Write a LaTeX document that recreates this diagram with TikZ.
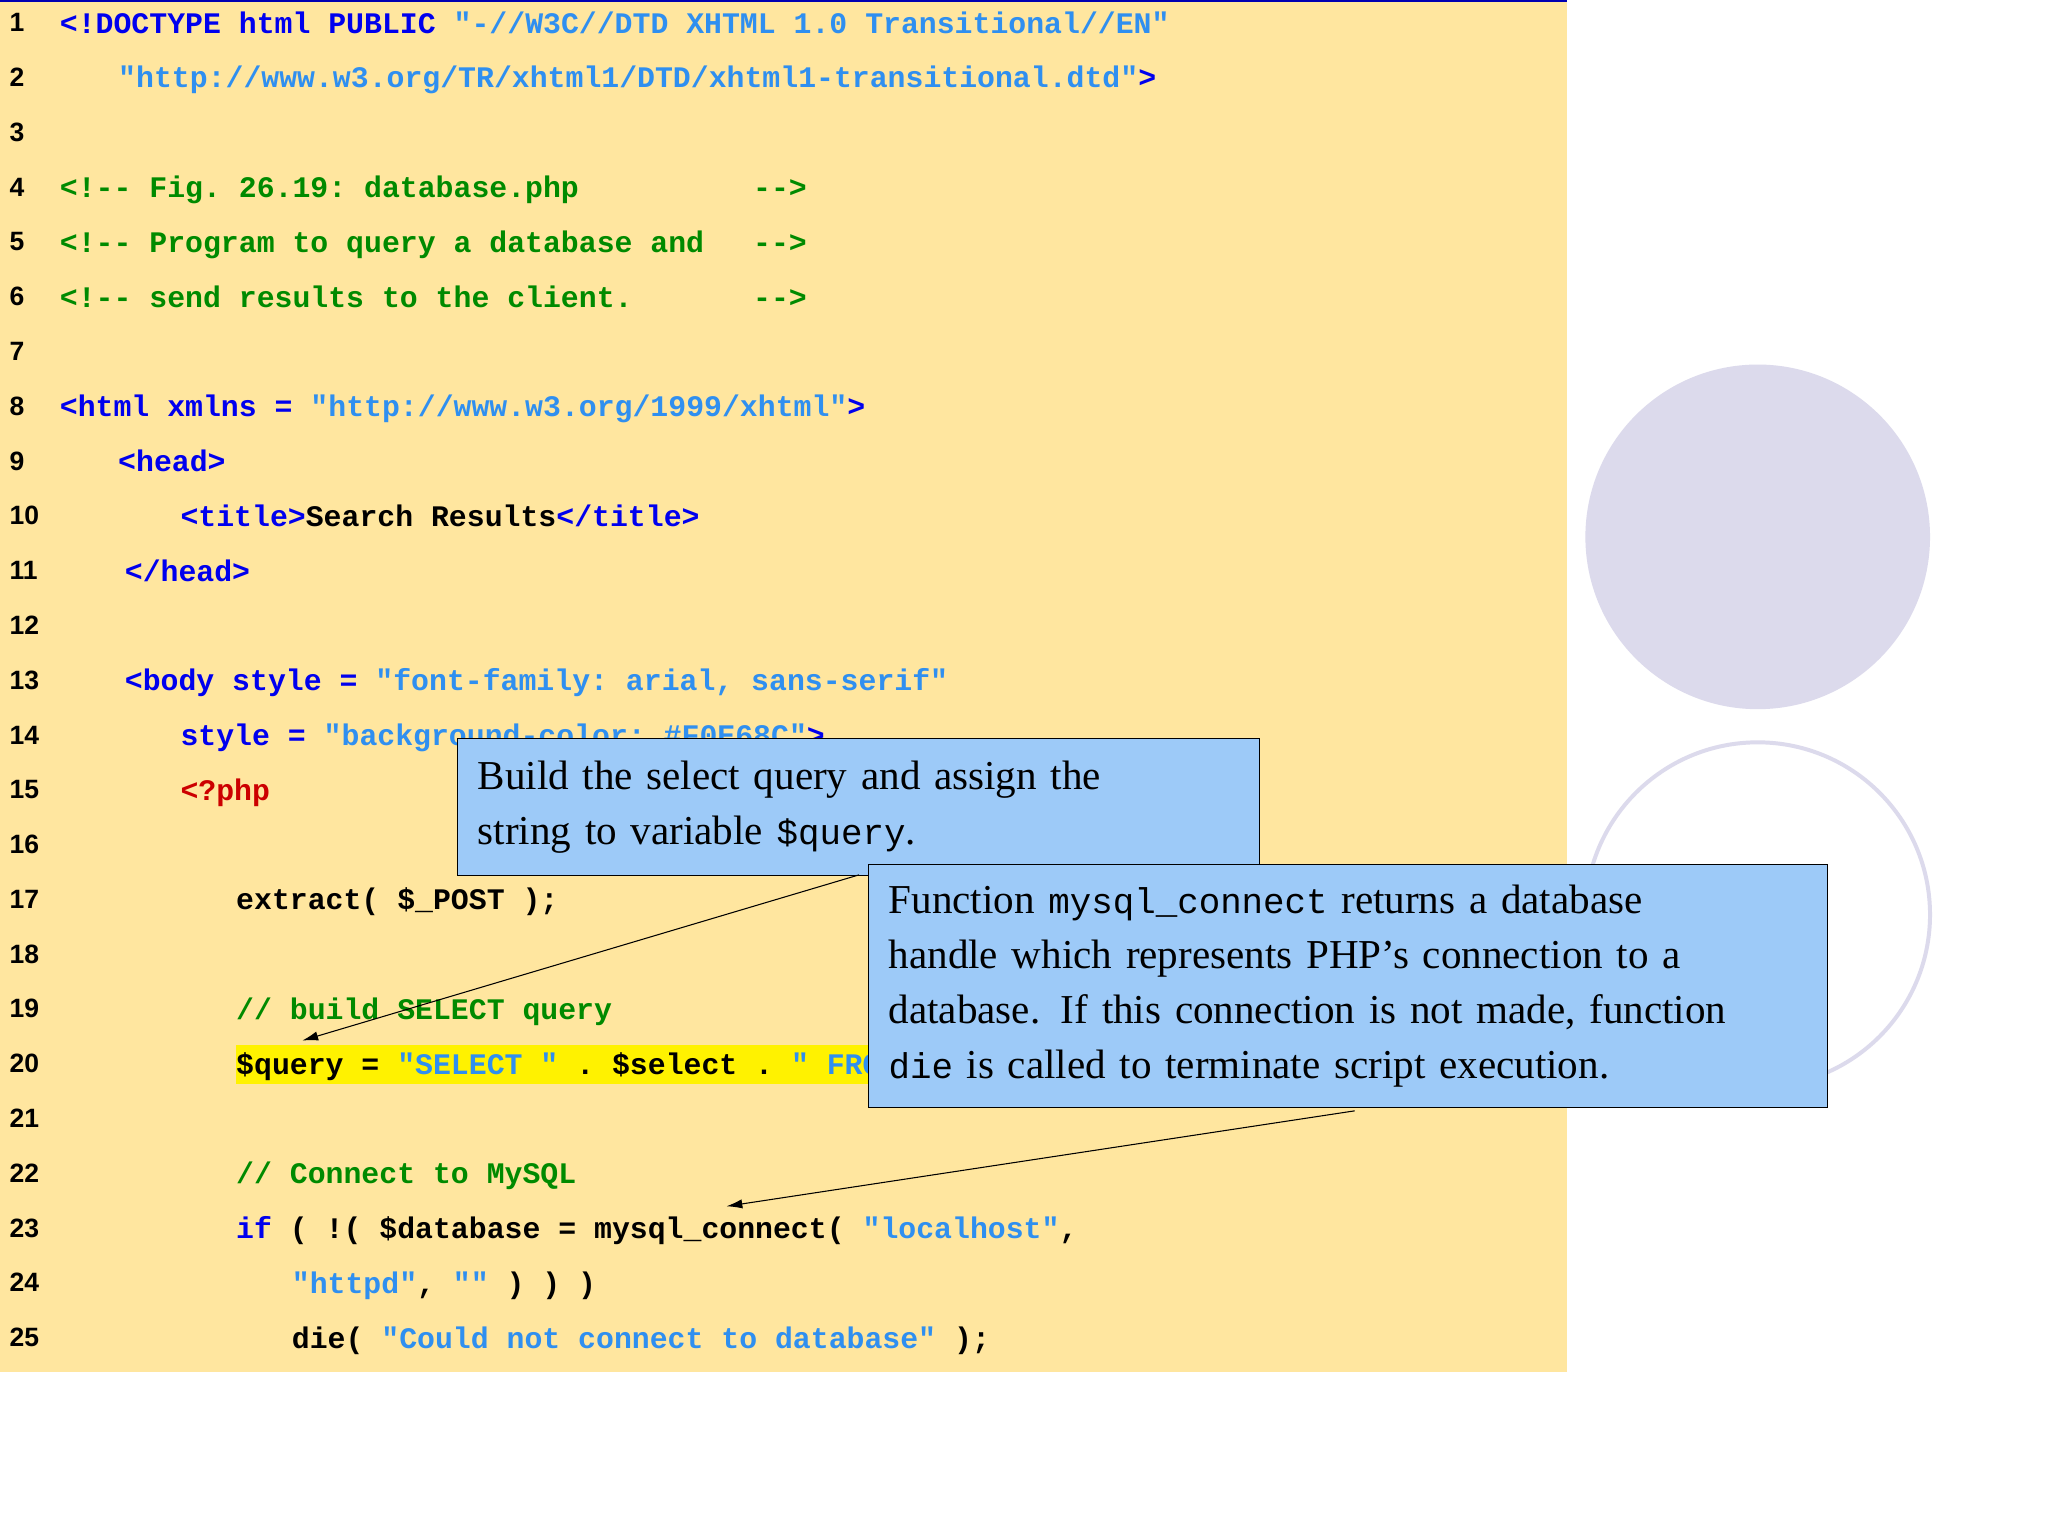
\documentclass[tikz,border=0pt]{standalone}
\usepackage{fontspec}
\usetikzlibrary{arrows.meta}
\setmainfont{Liberation Serif}
\setsansfont{Liberation Sans}
\setmonofont{Liberation Mono}
\definecolor{bgy}{HTML}{FFE69F}
\definecolor{tg}{HTML}{0000EE}
\definecolor{sg}{HTML}{2F8FF0}
\definecolor{cg}{HTML}{008A00}
\definecolor{pg}{HTML}{CC0000}
\definecolor{callb}{HTML}{9DCAF8}
\definecolor{lav}{HTML}{DCDAEC}
\newcommand\cTag[1]{\textcolor{tg}{#1}}
\newcommand\cStr[1]{\textcolor{sg}{#1}}
\newcommand\cCom[1]{\textcolor{cg}{#1}}
\newcommand\cPhp[1]{\textcolor{pg}{#1}}
\newcommand\cMono[1]{{\ttfamily\fontsize{27}{41.5}\selectfont #1}}
\begin{document}
\begin{tikzpicture}[x=1pt,y=-1pt,
  code/.style={anchor=base west,inner sep=0pt,font=\ttfamily\bfseries\fontsize{22.5}{23}\selectfont},
  lnum/.style={anchor=base west,inner sep=0pt,font=\sffamily\bfseries\fontsize{20}{21}\selectfont},
  callout/.style={draw=black,line width=0.8pt,fill=callb,anchor=north west,align=left,inner xsep=15pt,inner ysep=6pt,font=\rmfamily\fontsize{31}{41.5}\selectfont},
  arr/.style={-{Latex[length=12pt,width=7pt]},line width=0.8pt}]
\useasboundingbox (0,0) rectangle (1545,1159);
\fill[white] (0,0) rectangle (1545,1159);
\fill[bgy] (0,0) rectangle (1182,1035);
\draw[blue!70!black,line width=1.5pt] (0,0.7) -- (1182,0.7);
\fill[lav] (1326,405) circle (130);
\draw[lav,line width=3pt] (1326,690) circle (130);
\foreach \n in {1,...,25}{
  \node[lnum] (n\n) at (7,{17+(\n-1)*41.33+7}) {\n};
}
\def\Y#1{{17+(#1-1)*41.33+8}}
\fill[yellow] (178,788) rectangle (660,818);
\node[code] (l1) at (45,\Y1) {\cTag{<!DOCTYPE html PUBLIC }\cStr{"-//W3C//DTD XHTML 1.0 Transitional//EN"}};
\node[code] (l2) at (89,\Y2) {\cStr{"http://www.w3.org/TR/xhtml1/DTD/xhtml1-transitional.dtd"}\cTag{>}};
\node[code] (l4) at (45,\Y4) {\cCom{<!-- Fig. 26.19: database.php}};
\node[code] (l4b) at (568,\Y4) {\cCom{-->}};
\node[code] (l5) at (45,\Y5) {\cCom{<!-- Program to query a database and}};
\node[code] (l5b) at (568,\Y5) {\cCom{-->}};
\node[code] (l6) at (45,\Y6) {\cCom{<!-- send results to the client.}};
\node[code] (l6b) at (568,\Y6) {\cCom{-->}};
\node[code] (l8) at (45,\Y8) {\cTag{<html xmlns = }\cStr{"http://www.w3.org/1999/xhtml"}\cTag{>}};
\node[code] (l9) at (89,\Y9) {\cTag{<head>}};
\node[code] (l10) at (136,\Y{10}) {\cTag{<title>}Search Results\cTag{</title>}};
\node[code] (l11) at (94,\Y{11}) {\cTag{</head>}};
\node[code] (l13) at (94,\Y{13}) {\cTag{<body style = }\cStr{"font-family: arial, sans-serif"}};
\node[code] (l14) at (136,\Y{14}) {\cTag{style = }\cStr{"background-color: \#F0E68C"}\cTag{>}};
\node[code] (l15) at (136,\Y{15}) {\cPhp{<?php}};
\node[code] (l17) at (178,\Y{17}) {extract( \$\_POST );};
\node[code] (l19) at (178,\Y{19}) {\cCom{// build SELECT query}};
\node[code] (l20) at (178,\Y{20}) {\$query = \cStr{"SELECT "} . \$select . \cStr{" FROM books"};};
\node[code] (l22) at (178,\Y{22}) {\cCom{// Connect to MySQL}};
\node[code] (l23) at (178,\Y{23}) {\cTag{if} ( !( \$database = mysql\_connect( \cStr{"localhost"},};
\node[code] (l24) at (220,\Y{24}) {\cStr{"httpd"}, \cStr{""} ) ) )};
\node[code] (l25) at (220,\Y{25}) {die( \cStr{"Could not connect to database"} );};
\node[callout,text width=575pt,minimum height=103pt] (c1) at (345,557) {Build the select query and assign the\\string to variable \cMono{\$query}.};
\node[callout,text width=693pt,minimum height=183pt] (c2) at (655,652) {Function \cMono{mysql\_connect} returns a database\\handle which represents PHP’s connection to a\\database. If this connection is not made, function\\\cMono{die} is called to terminate script execution.};
\coordinate (a1) at (228,785);
\coordinate (a2) at (548,910);
\draw[arr] (648,660) -- (a1);
\draw[arr] (1022,838) -- (a2);
\end{tikzpicture}
\end{document}
